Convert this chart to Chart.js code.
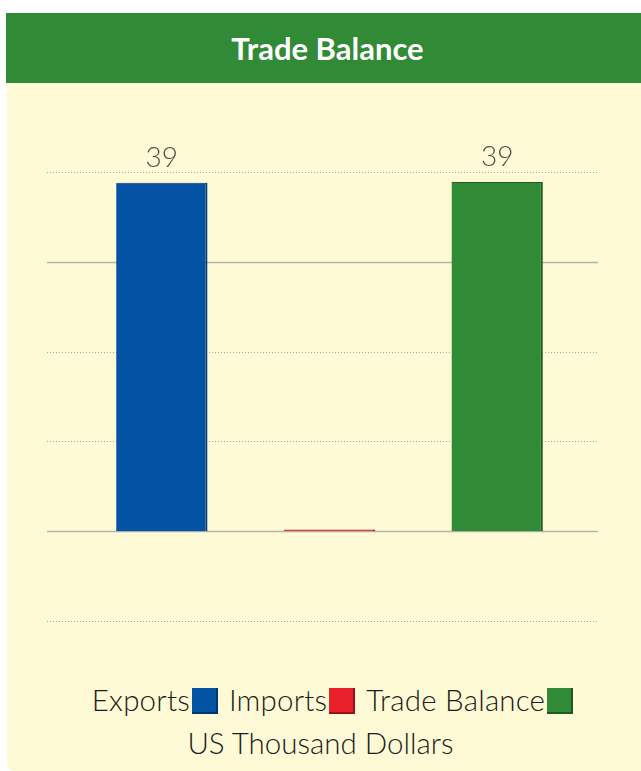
<!DOCTYPE html>
<html>
<head>
<meta charset="utf-8">
<script src="https://cdn.jsdelivr.net/npm/chart.js@4"></script>
<style>
  body { margin: 0; background: #fff; width: 641px; height: 771px; overflow: hidden; font-family: "Lato", sans-serif; }
  #head { position: absolute; left: 6px; top: 13px; width: 635px; height: 70px; background: #318a35;
          color: #fff; font: bold 31px "Lato", sans-serif; text-align: center; line-height: 70px; text-indent: 8px; }
  #panel { position: absolute; left: 7px; top: 83px; width: 634px; height: 688px; background: #fffad6;
           border-bottom-left-radius: 7px; }
  #wrap { position: absolute; left: 0; top: 83px; width: 641px; height: 580px; }
  #legend { position: absolute; left: 0; top: 678px; width: 641px; text-align: center; color: #1c1c1c;
            font: 300 29.5px "Lato", sans-serif; line-height: 43px; }
  #legend .row { padding-left: 24px; letter-spacing: 0.2px; }
  .sw { display: inline-block; width: 26px; height: 26px; margin: 0 11px 0 2px; vertical-align: -3px;
        box-shadow: inset -2px -2px 0 rgba(0,0,0,0.35); }
  .sw:last-child { margin-right: 0; }
</style>
</head>
<body>
<div id="head">Trade Balance</div>
<div id="panel"></div>
<div id="wrap"><canvas id="chart"></canvas></div>
<div id="legend"></div>
<script>
const categories = ["Exports", "Imports", "Trade Balance"];
const values = [38.8, 0.2, 38.9];
const barColors = ["#0353a5", "#e8202a", "#318a35"];
const edgeColors = ["#063a6e", "#a5151b", "#1f5f22"];
const yTicks = [-10, 0, 10, 20, 30, 40];
const solidTicks = [0, 30];
const unitLabel = "US Thousand Dollars";

// horizontal rules wider than the bar area
const gridPlugin = {
  id: "wideGrid",
  beforeDatasetsDraw(chart) {
    const ctx = chart.ctx, y = chart.scales.y;
    ctx.save();
    yTicks.forEach(t => {
      const py = Math.round(y.getPixelForValue(t)) + 0.5;
      const solid = solidTicks.includes(t);
      ctx.strokeStyle = solid ? "#b4b2a6" : "#a8a69c";
      ctx.lineWidth = solid ? 1.5 : 1;
      ctx.setLineDash(solid ? [] : [1, 2]);
      ctx.beginPath();
      ctx.moveTo(47, py);
      ctx.lineTo(598, py);
      ctx.stroke();
    });
    ctx.restore();
  }
};

const valuePlugin = {
  id: "valueLabels",
  afterDatasetsDraw(chart) {
    const ctx = chart.ctx;
    const meta = chart.getDatasetMeta(0);
    ctx.save();
    ctx.font = "300 28px Lato, sans-serif";
    ctx.fillStyle = "#4d4d4d";
    ctx.textAlign = "center";
    ctx.textBaseline = "bottom";
    meta.data.forEach((bar, i) => {
      if (values[i] < 1) return;
      ctx.fillText(Math.round(values[i]), bar.x, bar.y - 11);
    });
    ctx.restore();
  }
};

new Chart(document.getElementById("chart"), {
  type: "bar",
  data: {
    labels: categories,
    datasets: [{
      data: values,
      backgroundColor: barColors,
      borderColor: edgeColors,
      borderWidth: { top: 1, right: 2, left: 0, bottom: 0 },
      borderSkipped: false,
      categoryPercentage: 1,
      barPercentage: 0.545
    }]
  },
  options: {
    responsive: true,
    maintainAspectRatio: false,
    animation: false,
    layout: { padding: { left: 78, right: 60, top: 89, bottom: 42 } },
    plugins: { legend: { display: false }, tooltip: { enabled: false } },
    scales: {
      x: { display: false },
      y: { display: false, min: -10, max: 40 }
    }
  },
  plugins: [gridPlugin, valuePlugin]
});

document.getElementById("legend").innerHTML =
  '<div class="row">' +
  categories.map((c, i) => c + '<span class="sw" style="background:' + barColors[i] + '"></span>').join("") +
  "</div>" + unitLabel;
</script>
</body>
</html>
